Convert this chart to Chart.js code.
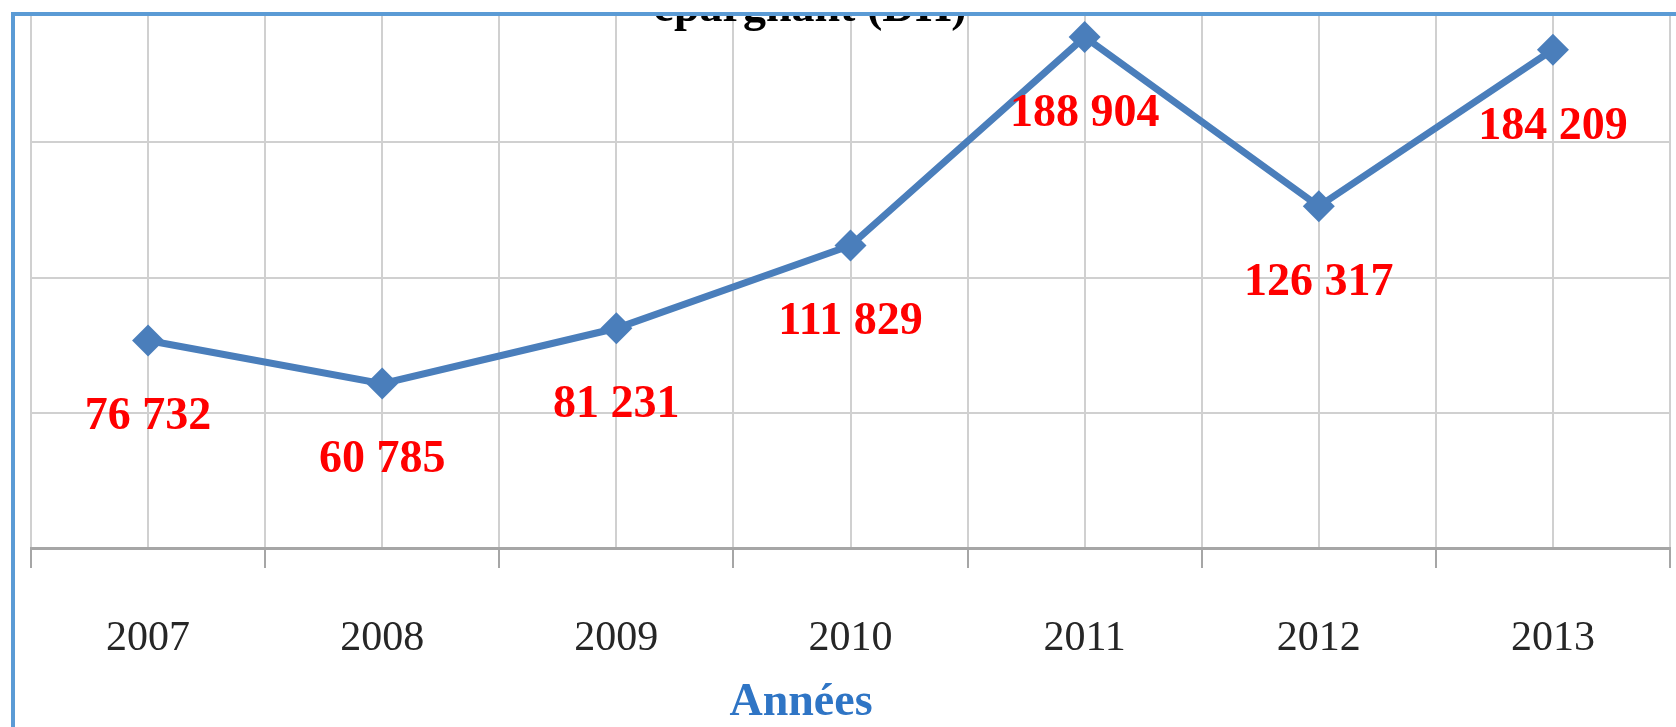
<!DOCTYPE html>
<html>
<head>
<meta charset="utf-8">
<script src="https://cdn.jsdelivr.net/npm/chart.js@4/dist/chart.umd.min.js"></script>
<style>
  html, body { margin: 0; padding: 0; background: #ffffff; }
  #wrap { position: relative; width: 1676px; height: 727px; overflow: hidden; background: #fff; }
  #c { position: absolute; left: 0; top: 0; }
  #topmask { position: absolute; left: 0; top: 0; width: 1676px; height: 12px; background: #fff; }
  #frame { position: absolute; left: 11px; top: 12px; width: 1700px; height: 800px;
           border-top: 4px solid #5b9bd5; border-left: 4px solid #5b9bd5; box-sizing: border-box; }
  #leftmask { position: absolute; left: 0; top: 0; width: 11px; height: 727px; background: #fff; }
</style>
</head>
<body>
<div id="wrap">
  <canvas id="c" width="1676" height="727"></canvas>
  <div id="topmask"></div>
  <div id="leftmask"></div>
  <div id="frame"></div>
</div>
<script>
// ---- data ----
const years = ['2007', '2008', '2009', '2010', '2011', '2012', '2013'];
const values = [76732, 60785, 81231, 111829, 188904, 126317, 184209];
const yTicksMin = 0;
const yTicksMax = 200000;
const yTicksStep = 50000;
const chartTitle = 'épargnant (DH)';
const xAxisTitle = 'Années';

const serif = '"Liberation Serif", "Times New Roman", serif';

function fmt(v) {
  return String(v).replace(/\B(?=(\d{3})+(?!\d))/g, ' ');
}

const labelsPlugin = {
  id: 'valueLabels',
  afterDatasetsDraw(chart) {
    const ctx = chart.ctx;
    const meta = chart.getDatasetMeta(0);
    ctx.save();
    ctx.fillStyle = '#ff0000';
    ctx.font = 'bold 46px ' + serif;
    ctx.textAlign = 'center';
    ctx.textBaseline = 'middle';
    meta.data.forEach((el, i) => {
      ctx.fillText(fmt(chart.data.datasets[0].data[i]), el.x, el.y + 77);
    });
    ctx.restore();
  }
};

const textPlugin = {
  id: 'extraText',
  afterDraw(chart) {
    const ctx = chart.ctx;
    ctx.save();
    // chart title (mostly clipped at the top, as in the reference)
    ctx.fillStyle = '#000000';
    ctx.font = 'bold 46px ' + serif;
    ctx.textAlign = 'center';
    ctx.textBaseline = 'alphabetic';
    ctx.fillText(chartTitle, 810, 21);
    // x axis title
    ctx.fillStyle = '#2f75c5';
    ctx.font = 'bold 46px ' + serif;
    ctx.textBaseline = 'middle';
    ctx.fillText(xAxisTitle, 801, 703);
    ctx.restore();
  }
};

new Chart(document.getElementById('c'), {
  type: 'line',
  data: {
    labels: years,
    datasets: [{
      data: values,
      borderColor: '#4a7ebb',
      backgroundColor: '#4a7ebb',
      borderWidth: 7,
      tension: 0,
      pointStyle: 'rectRot',
      pointRadius: 16,
      pointBorderWidth: 0,
      pointBackgroundColor: '#4a7ebb',
      fill: false,
      clip: false
    }]
  },
  options: {
    responsive: false,
    animation: false,
    events: [],
    layout: { autoPadding: false, padding: { left: 31, right: 6, top: 7, bottom: 0 } },
    plugins: { legend: { display: false }, title: { display: false }, tooltip: { enabled: false } },
    scales: {
      x: {
        type: 'category',
        position: 'bottom',
        offset: true,
        afterFit(s) { s.height = 179; },
        grid: { offset: true, color: '#d0d0d0', lineWidth: 2, tickLength: 20, tickColor: '#a6a6a6', tickWidth: 2 },
        border: { display: true, color: '#a6a6a6', width: 3 },
        ticks: { color: '#262626', font: { family: serif, size: 42 }, padding: 46, maxRotation: 0, autoSkip: false }
      },
      x2: {
        type: 'category',
        position: 'top',
        offset: true,
        labels: years,
        afterFit(s) { s.height = 0; },
        grid: { offset: false, color: '#d0d0d0', lineWidth: 2, drawTicks: false },
        border: { display: false },
        ticks: { display: false }
      },
      y: {
        min: yTicksMin,
        max: yTicksMax,
        afterFit(s) { s.width = 0; },
        ticks: { display: false, stepSize: yTicksStep },
        grid: { color: '#d0d0d0', lineWidth: 2, drawTicks: false },
        border: { display: false }
      }
    }
  },
  plugins: [labelsPlugin, textPlugin]
});
</script>
</body>
</html>
